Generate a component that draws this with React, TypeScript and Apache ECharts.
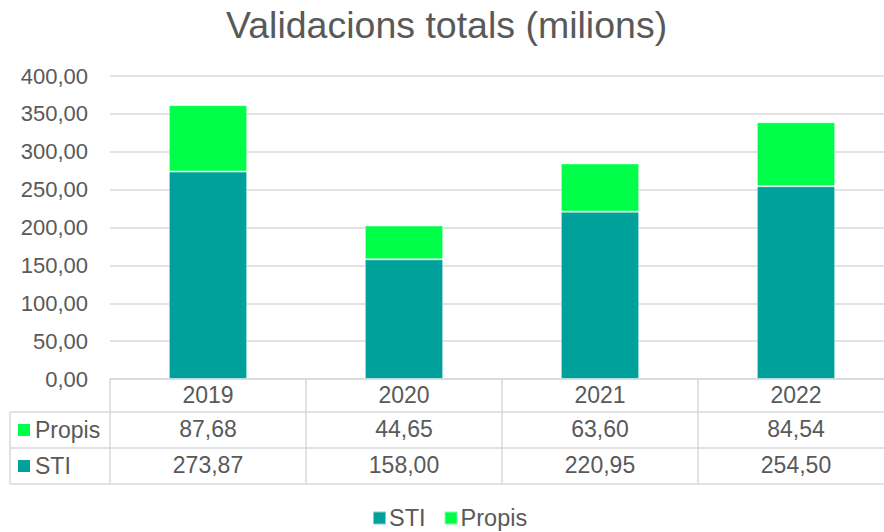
import React, { useEffect, useRef } from "react";
import * as echarts from "echarts";

const categories = ["2019", "2020", "2021", "2022"];
const stiValues = [273.87, 158.0, 220.95, 254.5];
const propisValues = [87.68, 44.65, 63.6, 84.54];
const seriesNames = ["STI", "Propis"];
const titleText = "Validacions totals (milions)";

const TEAL = "#00A19A";
const GREEN = "#00FF48";
const TEXT = "#595959";
const LINE = "#D9D9D9";
const FONT = "'Liberation Sans', Arial, sans-serif";

const fmt = (v: number) => v.toFixed(2).replace(".", ",");

export default function App() {
  const ref = useRef<HTMLDivElement>(null);
  useEffect(() => {
    if (!ref.current) return;
    const chart = echarts.init(ref.current, undefined, { renderer: "svg" });
    const W = 904;
    const gridLeft = 110;
    const tableLeft = 10;
    const rowLines = [412, 448, 484];
    const rowCenters = [430, 466];
    const rowNames = ["Propis", "STI"];
    const rowColors = [GREEN, TEAL];

    const graphics: any[] = [];
    rowLines.forEach((y) => {
      graphics.push({
        type: "line",
        shape: { x1: tableLeft, y1: y, x2: W, y2: y },
        style: { stroke: LINE, lineWidth: 1.5 },
        silent: true,
      });
    });
    graphics.push({
      type: "line",
      shape: { x1: tableLeft, y1: rowLines[0], x2: tableLeft, y2: rowLines[2] },
      style: { stroke: LINE, lineWidth: 1.5 },
      silent: true,
    });
    rowNames.forEach((n, i) => {
      graphics.push({
        type: "rect",
        shape: { x: 18, y: rowCenters[i] - 6, width: 12, height: 12 },
        style: { fill: rowColors[i] },
        silent: true,
      });
      graphics.push({
        type: "text",
        x: 35,
        y: rowCenters[i],
        style: {
          text: n,
          fill: TEXT,
          font: `23px ${FONT}`,
          verticalAlign: "middle",
          align: "left",
        },
        silent: true,
      });
    });

    chart.setOption({
      animation: false,
      title: {
        text: titleText,
        left: 226,
        top: 6,
        padding: 0,
        textStyle: { fontSize: 37.5, fontWeight: "normal", color: TEXT, fontFamily: FONT },
      },
      legend: {
        data: seriesNames,
        left: 372,
        top: 506,
        padding: 0,
        icon: "rect",
        itemWidth: 13,
        itemHeight: 13,
        itemGap: 18,
        textStyle: { fontSize: 23.5, color: TEXT, fontFamily: FONT, padding: [0, 0, 0, -2] },
      },
      grid: { left: gridLeft, right: W - 894, top: 76, bottom: 532 - 379, containLabel: false },
      xAxis: {
        type: "category",
        data: categories,
        axisLine: { show: true, lineStyle: { color: LINE, width: 1.5 } },
        axisTick: { show: true, length: 105, lineStyle: { color: LINE, width: 1.5 } },
        axisLabel: {
          margin: 0,
          interval: 0,
          formatter: (v: string, idx: number) =>
            `{y|${v}}\n{v|${fmt(propisValues[idx])}}\n{v|${fmt(stiValues[idx])}}`,
          rich: {
            y: { fontSize: 23, lineHeight: 32, color: TEXT, fontFamily: FONT },
            v: { fontSize: 23, lineHeight: 36, color: TEXT, fontFamily: FONT },
          },
        },
      },
      yAxis: {
        type: "value",
        min: 0,
        max: 400,
        interval: 50,
        axisLine: { show: false },
        axisTick: { show: false },
        splitLine: { lineStyle: { color: LINE, width: 1.5 } },
        axisLabel: {
          formatter: (v: number) => fmt(v),
          fontSize: 22,
          color: TEXT,
          fontFamily: FONT,
          margin: 22,
        },
      },
      series: [
        {
          name: seriesNames[0],
          type: "bar",
          stack: "total",
          data: stiValues,
          barWidth: "40%",
          itemStyle: { color: TEAL, borderColor: "rgba(255,255,255,0.5)", borderWidth: 1 },
        },
        {
          name: seriesNames[1],
          type: "bar",
          stack: "total",
          data: propisValues,
          barWidth: "40%",
          itemStyle: { color: GREEN, borderColor: "rgba(255,255,255,0.5)", borderWidth: 1 },
        },
      ],
      graphic: graphics,
    });
    return () => chart.dispose();
  }, []);
  return (
    <div
      style={{
        position: "fixed",
        left: 0,
        top: 0,
        width: 884,
        height: 532,
        overflow: "hidden",
        background: "#fff",
      }}
    >
      <div ref={ref} style={{ width: 904, height: 532 }} />
    </div>
  );
}
